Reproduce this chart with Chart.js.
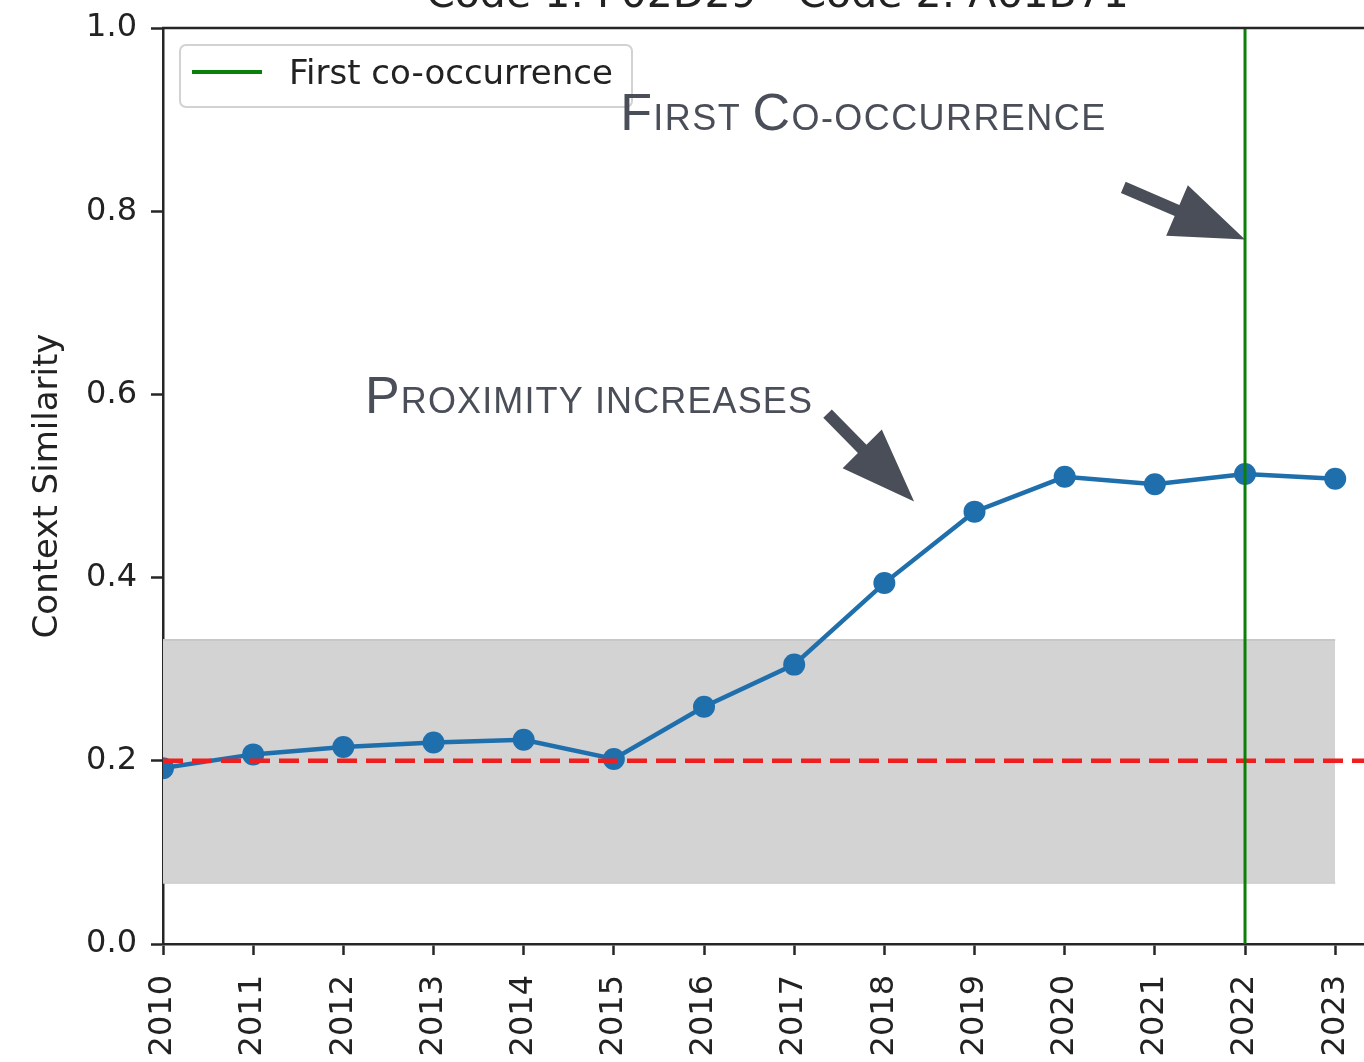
<!DOCTYPE html>
<html>
<head>
<meta charset="utf-8">
<script src="https://cdn.jsdelivr.net/npm/chart.js@4/dist/chart.umd.min.js"></script>
<style>
  html, body { margin: 0; padding: 0; background: #fff; width: 1364px; height: 1062px; overflow: hidden; }
  #wrap { position: absolute; left: 0; top: 0; }
  canvas { display: block; }
</style>
</head>
<body>
<div id="wrap"><canvas id="chart" width="1403" height="1100"></canvas></div>
<script>
// ---- data ----
const years = [2010, 2011, 2012, 2013, 2014, 2015, 2016, 2017, 2018, 2019, 2020, 2021, 2022, 2023];
const similarity = [0.192, 0.207, 0.215, 0.220, 0.223, 0.202, 0.259, 0.305, 0.394, 0.472, 0.510, 0.502, 0.513, 0.508];
const baselineValue = 0.2;
const bandRange = [0.067, 0.332];
const firstCoYear = 2022;
const yTickValues = [0, 0.2, 0.4, 0.6, 0.8, 1.0];
const titleText = 'Code 1: F02D29 - Code 2: A61B71';
const yTitleText = 'Context Similarity';
const legendLabel = 'First co-occurrence';
const noteTexts = ['First Co-occurrence', 'Proximity increases'];

// ---- layout / style ----
const X_MAX = 2023.63;
const TEXT = '#222222';
const AXIS = '#262626';
const NOTE = '#4a4e58';

// annotation anchors in data units: text origin (left, baseline), arrow tail and tip
const notes = [
  { text: noteTexts[0], tx: 2015.07, ty: 0.889, width: 485, tail: [2020.65, 0.826], tip: [firstCoYear, 0.769] },
  { text: noteTexts[1], tx: 2012.24, ty: 0.580, width: 447, tail: [2017.37, 0.579], tip: [2018.33, 0.483] }
];

function drawSmallCaps(ctx, text, x, y, big, small, width) {
  const glyphs = [...text].map(ch => {
    const isBig = ch !== ch.toLowerCase();
    return { ch: ch.toUpperCase(), font: (isBig ? big : small) + 'px "Liberation Sans", Arial, sans-serif' };
  });
  let natural = 0;
  glyphs.forEach(g => { ctx.font = g.font; g.w = ctx.measureText(g.ch).width; natural += g.w; });
  const extra = glyphs.length > 1 ? (width - natural) / (glyphs.length - 1) : 0;
  ctx.textAlign = 'left';
  ctx.textBaseline = 'alphabetic';
  let cx = x;
  glyphs.forEach(g => { ctx.font = g.font; ctx.fillText(g.ch, cx, y); cx += g.w + extra; });
}

function drawArrow(ctx, x0, y0, x1, y1, shaft, headLen, headW) {
  const dx = x1 - x0, dy = y1 - y0, len = Math.hypot(dx, dy);
  const ux = dx / len, uy = dy / len, nx = -uy, ny = ux;
  const bx = x1 - ux * headLen, by = y1 - uy * headLen;
  ctx.beginPath();
  ctx.moveTo(x0 + nx * shaft / 2, y0 + ny * shaft / 2);
  ctx.lineTo(bx + nx * shaft / 2, by + ny * shaft / 2);
  ctx.lineTo(bx + nx * headW / 2, by + ny * headW / 2);
  ctx.lineTo(x1, y1);
  ctx.lineTo(bx - nx * headW / 2, by - ny * headW / 2);
  ctx.lineTo(bx - nx * shaft / 2, by - ny * shaft / 2);
  ctx.lineTo(x0 - nx * shaft / 2, y0 - ny * shaft / 2);
  ctx.closePath();
  ctx.fill();
}

const decorPlugin = {
  id: 'decor',
  afterDraw(chart) {
    const { ctx, chartArea: a, scales: { x, y } } = chart;
    ctx.save();

    // top spine
    ctx.strokeStyle = AXIS;
    ctx.lineWidth = 2.5;
    ctx.beginPath();
    ctx.moveTo(a.left - 1, a.top);
    ctx.lineTo(a.right, a.top);
    ctx.stroke();

    // title
    ctx.fillStyle = TEXT;
    ctx.font = '41px "DejaVu Sans", sans-serif';
    ctx.textAlign = 'center';
    ctx.textBaseline = 'alphabetic';
    ctx.fillText(titleText, (a.left + a.right) / 2, 7);

    // y axis title
    ctx.save();
    ctx.translate(48, (a.top + a.bottom) / 2);
    ctx.rotate(-Math.PI / 2);
    ctx.font = '34px "DejaVu Sans", sans-serif';
    ctx.textAlign = 'center';
    ctx.textBaseline = 'middle';
    ctx.fillText(yTitleText, 0, 0);
    ctx.restore();

    // legend box
    const ds = chart.data.datasets.find(d => d.inLegend);
    const lx = a.left + 17, ly = a.top + 17, lw = 452, lh = 62;
    ctx.fillStyle = 'rgba(255,255,255,0.85)';
    ctx.strokeStyle = '#d2d2d2';
    ctx.lineWidth = 2;
    ctx.beginPath();
    ctx.roundRect(lx, ly, lw, lh, 6);
    ctx.fill();
    ctx.stroke();
    ctx.strokeStyle = ds.borderColor;
    ctx.lineWidth = 4;
    ctx.beginPath();
    ctx.moveTo(lx + 12, ly + 27);
    ctx.lineTo(lx + 82, ly + 27);
    ctx.stroke();
    ctx.fillStyle = TEXT;
    ctx.font = '34px "DejaVu Sans", sans-serif';
    ctx.textAlign = 'left';
    ctx.textBaseline = 'alphabetic';
    ctx.fillText(ds.label, lx + 109, ly + 39);

    // annotations
    ctx.fillStyle = NOTE;
    notes.forEach(n => {
      drawSmallCaps(ctx, n.text, x.getPixelForValue(n.tx), y.getPixelForValue(n.ty), 52, 36, n.width);
      drawArrow(ctx,
        x.getPixelForValue(n.tail[0]), y.getPixelForValue(n.tail[1]),
        x.getPixelForValue(n.tip[0]), y.getPixelForValue(n.tip[1]),
        12, 74, 55);
    });

    ctx.restore();
  }
};

const tickFont = { family: '"DejaVu Sans", sans-serif', size: 32 };
const noPadding = s => { s.paddingTop = 0; s.paddingBottom = 0; s.paddingLeft = 0; s.paddingRight = 0; };

new Chart(document.getElementById('chart'), {
  type: 'line',
  data: {
    datasets: [
      {
        label: legendLabel,
        inLegend: true,
        data: [{ x: firstCoYear, y: 0 }, { x: firstCoYear, y: 1 }],
        borderColor: '#0a800a',
        borderWidth: 3,
        pointRadius: 0,
        order: 0,
        clip: 0
      },
      {
        label: 'baseline',
        data: [{ x: years[0], y: baselineValue }, { x: X_MAX, y: baselineValue }],
        borderColor: '#f01e1e',
        borderWidth: 4.5,
        borderDash: [20, 9],
        pointRadius: 0,
        order: 1,
        clip: 0
      },
      {
        label: 'similarity',
        data: years.map((yr, i) => ({ x: yr, y: similarity[i] })),
        borderColor: '#1f6fad',
        backgroundColor: '#1f6fad',
        borderWidth: 4.5,
        pointRadius: 11,
        pointBorderWidth: 0,
        pointBackgroundColor: '#1f6fad',
        tension: 0,
        order: 2,
        clip: 0
      },
      {
        label: 'band low',
        data: [{ x: years[0], y: bandRange[0] }, { x: years[years.length - 1], y: bandRange[0] }],
        borderColor: '#c8c8c8',
        borderWidth: 2,
        pointRadius: 0,
        fill: false,
        order: 4,
        clip: 0
      },
      {
        label: 'band high',
        data: [{ x: years[0], y: bandRange[1] }, { x: years[years.length - 1], y: bandRange[1] }],
        borderColor: '#c8c8c8',
        borderWidth: 2,
        backgroundColor: '#d3d3d3',
        pointRadius: 0,
        fill: '-1',
        order: 3,
        clip: 0
      }
    ]
  },
  options: {
    responsive: false,
    animation: false,
    layout: { padding: { top: 28, left: 0, right: 0, bottom: 0 } },
    plugins: { legend: { display: false }, tooltip: { enabled: false }, title: { display: false } },
    scales: {
      x: {
        type: 'linear',
        min: years[0],
        max: X_MAX,
        z: 1,
        afterFit: s => { s.height = 156; noPadding(s); },
        border: { display: true, color: AXIS, width: 2.5 },
        grid: { display: true, drawOnChartArea: false, drawTicks: true, tickLength: 11, tickWidth: 2.5, tickColor: AXIS },
        ticks: {
          stepSize: 1,
          includeBounds: false,
          autoSkip: false,
          minRotation: 90,
          maxRotation: 90,
          padding: 20,
          color: TEXT,
          font: tickFont,
          callback: v => (years.includes(v) ? String(v) : '')
        }
      },
      y: {
        type: 'linear',
        min: yTickValues[0],
        max: yTickValues[yTickValues.length - 1],
        z: 1,
        afterFit: s => { s.width = 163; noPadding(s); },
        afterBuildTicks: s => { s.ticks = yTickValues.map(v => ({ value: v })); },
        border: { display: true, color: AXIS, width: 2.5 },
        grid: { display: true, drawOnChartArea: false, drawTicks: true, tickLength: 12, tickWidth: 2.5, tickColor: AXIS },
        ticks: {
          padding: 14,
          color: TEXT,
          font: tickFont,
          callback: v => Number(v).toFixed(1)
        }
      }
    }
  },
  plugins: [decorPlugin]
});
</script>
</body>
</html>
